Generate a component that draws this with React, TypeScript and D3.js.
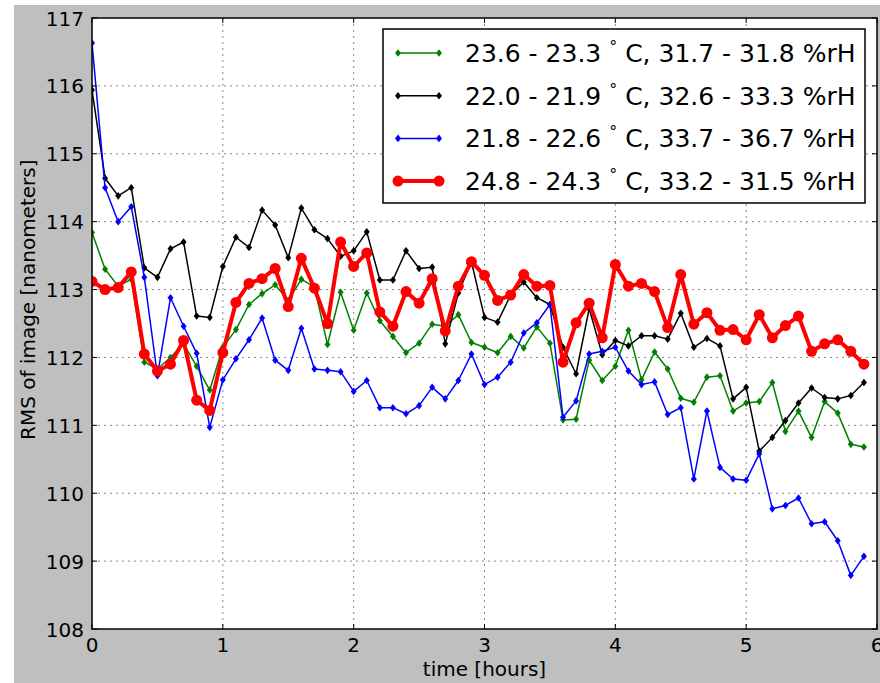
import React from 'react'
import * as d3 from 'd3'

// time in hours, one sample every 6 minutes
const TIMES = [
  0.0, 0.1, 0.2, 0.3, 0.4, 0.5, 0.6, 0.7, 0.8, 0.9,
  1.0, 1.1, 1.2, 1.3, 1.4, 1.5, 1.6, 1.7, 1.8, 1.9,
  2.0, 2.1, 2.2, 2.3, 2.4, 2.5, 2.6, 2.7, 2.8, 2.9,
  3.0, 3.1, 3.2, 3.3, 3.4, 3.5, 3.6, 3.7, 3.8, 3.9,
  4.0, 4.1, 4.2, 4.3, 4.4, 4.5, 4.6, 4.7, 4.8, 4.9,
  5.0, 5.1, 5.2, 5.3, 5.4, 5.5, 5.6, 5.7, 5.8, 5.9,
]

const GREEN = [
  113.84, 113.3, 113.05, 113.15, 111.93, 111.83, 112.0, 112.2, 111.87, 111.52,
  112.15, 112.41, 112.78, 112.94, 113.07, 112.84, 113.15, 113.04, 112.19, 112.96,
  112.4, 112.95, 112.54, 112.31, 112.07, 112.21, 112.49, 112.46, 112.63, 112.22,
  112.15, 112.07, 112.31, 112.14, 112.45, 112.21, 111.08, 111.09, 111.96, 111.66,
  111.87, 112.4, 111.67, 112.08, 111.83, 111.4, 111.34, 111.71, 111.73, 111.21,
  111.33, 111.35, 111.63, 110.91, 111.21, 110.82, 111.35, 111.18, 110.72, 110.68,
]

const BLACK = [
  115.94, 114.64, 114.38, 114.5, 113.32, 113.18, 113.6, 113.7, 112.61, 112.59,
  113.34, 113.77, 113.62, 114.17, 113.95, 113.47, 114.2, 113.88, 113.75, 113.49,
  113.57, 113.85, 113.14, 113.14, 113.57, 113.31, 113.33, 112.2, 112.95, 113.41,
  112.59, 112.52, 112.92, 113.11, 112.88, 112.78, 112.15, 111.76, 112.72, 112.04,
  112.25, 112.17, 112.32, 112.32, 112.27, 112.65, 112.15, 112.28, 112.17, 111.39,
  111.56, 110.62, 110.82, 111.07, 111.33, 111.55, 111.41, 111.39, 111.44, 111.63,
]

const BLUE = [
  116.63, 114.5, 114.0, 114.22, 113.18, 111.73, 112.88, 112.46, 112.06, 110.97,
  111.67, 111.98, 112.26, 112.58, 111.96, 111.81, 112.43, 111.83, 111.81, 111.79,
  111.5, 111.66, 111.26, 111.26, 111.17, 111.29, 111.56, 111.39, 111.66, 112.05,
  111.6, 111.71, 111.93, 112.36, 112.51, 112.78, 111.12, 111.36, 112.05, 112.09,
  112.15, 111.8, 111.6, 111.64, 111.16, 111.26, 110.21, 111.21, 110.38, 110.21,
  110.19, 110.58, 109.77, 109.82, 109.93, 109.55, 109.58, 109.3, 108.79, 109.07,
]

const RED = [
  113.12, 113.0, 113.03, 113.26, 112.05, 111.8, 111.9, 112.25, 111.37, 111.22,
  112.07, 112.81, 113.09, 113.16, 113.31, 112.75, 113.46, 113.02, 112.5, 113.7,
  113.34, 113.54, 112.67, 112.46, 112.97, 112.8, 113.16, 112.39, 113.05, 113.41,
  113.21, 112.84, 112.92, 113.22, 113.05, 113.06, 111.93, 112.51, 112.8, 112.29,
  113.37, 113.05, 113.09, 112.97, 112.44, 113.22, 112.49, 112.66, 112.4, 112.41,
  112.26, 112.63, 112.29, 112.47, 112.61, 112.09, 112.2, 112.26, 112.09, 111.9,
]

const TEMPS = ['23.6 - 23.3', '22.0 - 21.9', '21.8 - 22.6', '24.8 - 24.3']
const HUMIDITY = ['31.7 - 31.8 %rH', '32.6 - 33.3 %rH', '33.7 - 36.7 %rH', '33.2 - 31.5 %rH']
const X_TICKS = [0, 1, 2, 3, 4, 5, 6]
const Y_TICKS = [108, 109, 110, 111, 112, 113, 114, 115, 116, 117]

const series = [
  { values: GREEN, color: '#008000', width: 1.5, marker: 'diamond' },
  { values: BLACK, color: '#000000', width: 1.5, marker: 'diamond' },
  { values: BLUE, color: '#0000ff', width: 1.5, marker: 'diamond' },
  { values: RED, color: '#ff0000', width: 4, marker: 'circle' },
]

const W = 880
const H = 683
const left = 92
const right = 877
const top = 18
const bottom = 629
const font = 'DejaVu Sans, sans-serif'

const Marker = ({ kind, x, y, color }) =>
  kind === 'circle' ? (
    <circle cx={x} cy={y} r={5.5} fill={color} />
  ) : (
    <path d={`M${x},${y - 3.8}L${x + 3},${y}L${x},${y + 3.8}L${x - 3},${y}Z`} fill={color} />
  )

export default function App() {
  const x = d3.scaleLinear().domain([0, 6]).range([left, right])
  const y = d3.scaleLinear().domain([108, 117]).range([bottom, top])
  const line = d3
    .line<number>()
    .x((_, i) => x(TIMES[i]))
    .y((v) => y(v))

  const legendX = 383
  const legendY = 29
  const rowH = 42.7

  return (
    <svg
      width={W}
      height={H}
      style={{ position: 'absolute', left: 0, top: 0, display: 'block' }}
      fontFamily={font}
    >
      <rect x={0} y={0} width={W} height={H} fill="#ffffff" />
      <rect x={14} y={5} width={W - 14} height={H - 5} fill="#bfbfbf" />
      <rect x={left} y={top} width={right - left} height={bottom - top} fill="#ffffff" />

      {/* grid */}
      {X_TICKS.slice(1, -1).map((t) => (
        <line key={'gx' + t} x1={x(t)} x2={x(t)} y1={top} y2={bottom}
          stroke="#888" strokeWidth={1} strokeDasharray="2,4" />
      ))}
      {Y_TICKS.slice(1, -1).map((t) => (
        <line key={'gy' + t} x1={left} x2={right} y1={y(t)} y2={y(t)}
          stroke="#888" strokeWidth={1} strokeDasharray="2,4" />
      ))}

      {/* series */}
      <g clipPath="url(#plotclip)">
        {series.map((s, k) => (
          <g key={k}>
            <path d={line(s.values)} fill="none" stroke={s.color} strokeWidth={s.width}
              strokeLinejoin="round" />
            {s.values.map((v, i) => (
              <Marker key={i} kind={s.marker} x={x(TIMES[i])} y={y(v)} color={s.color} />
            ))}
          </g>
        ))}
      </g>
      <defs>
        <clipPath id="plotclip">
          <rect x={left} y={top - 2} width={right - left} height={bottom - top + 4} />
        </clipPath>
      </defs>

      {/* ticks, inward on all four sides */}
      {X_TICKS.map((t) => (
        <g key={'tx' + t}>
          <line x1={x(t)} x2={x(t)} y1={bottom} y2={bottom - 5} stroke="#000" strokeWidth={1} />
          <line x1={x(t)} x2={x(t)} y1={top} y2={top + 5} stroke="#000" strokeWidth={1} />
          <text x={x(t)} y={652} textAnchor="middle" fontSize={20} fill="#000">{t}</text>
        </g>
      ))}
      {Y_TICKS.map((t) => (
        <g key={'ty' + t}>
          <line x1={left} x2={left + 5} y1={y(t)} y2={y(t)} stroke="#000" strokeWidth={1} />
          <line x1={right} x2={right - 5} y1={y(t)} y2={y(t)} stroke="#000" strokeWidth={1} />
          <text x={84} y={y(t) + 7.5} textAnchor="end" fontSize={20} fill="#000">{t}</text>
        </g>
      ))}

      <rect x={left} y={top} width={right - left} height={bottom - top} fill="none"
        stroke="#000" strokeWidth={1.5} />

      {/* axis labels */}
      <text x={(left + right) / 2} y={676} textAnchor="middle" fontSize={20} fill="#000">
        time [hours]
      </text>
      <text transform="translate(35,440) rotate(-90)" textAnchor="start" fontSize={20} fill="#000">
        RMS of image [nanometers]
      </text>

      {/* legend */}
      <rect x={legendX} y={legendY} width={865 - legendX} height={174} fill="#ffffff"
        stroke="#000" strokeWidth={1.5} />
      {series.map((s, k) => {
        const cy = 53 + k * rowH
        return (
          <g key={'lg' + k}>
            <line x1={398} x2={439} y1={cy} y2={cy} stroke={s.color} strokeWidth={s.width} />
            <Marker kind={s.marker} x={398} y={cy} color={s.color} />
            <Marker kind={s.marker} x={439} y={cy} color={s.color} />
            <text x={465} y={cy + 9} fontSize={25} fill="#000">
              {TEMPS[k] + ' '}
              <tspan fontSize={16} dy={-10}>°</tspan>
              <tspan dy={10}>{' C, ' + HUMIDITY[k]}</tspan>
            </text>
          </g>
        )
      })}
    </svg>
  )
}
